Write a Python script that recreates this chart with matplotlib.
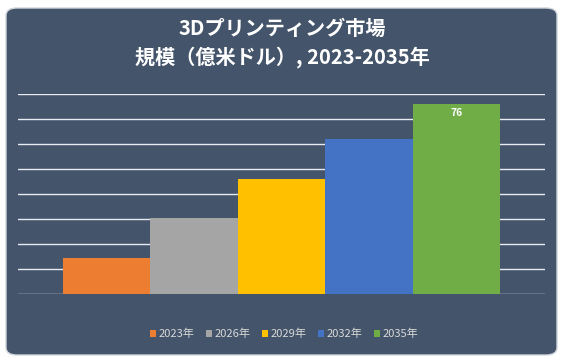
import matplotlib
matplotlib.use("Agg")
import matplotlib.pyplot as plt
from matplotlib.patches import FancyBboxPatch, Rectangle

plt.rcParams['font.family'] = ['Noto Sans CJK JP', 'DejaVu Sans']

categories = ["2023年", "2026年", "2029年", "2032年", "2035年"]
values = [14.1, 30.1, 46.0, 62.0, 76.0]
colors = ["#ED7D31", "#A5A5A5", "#FFC000", "#4472C4", "#70AD47"]
value_labels = ["", "", "", "", "76"]
title = "3Dプリンティング市場\n規模（億米ドル）, 2023-2035年"
yticks = list(range(0, 81, 10))

W, H = 563, 363
fig = plt.figure(figsize=(W / 100, H / 100), dpi=100)
fig.patch.set_facecolor("white")

# card background
card = FancyBboxPatch((6 / W, 8 / H), 551 / W, 347 / H,
                      boxstyle="round,pad=0,rounding_size=0.02",
                      transform=fig.transFigure, facecolor="#44546A",
                      edgecolor="#D0D4DA", linewidth=1.0, zorder=-5)
fig.patches.append(card)

ax = fig.add_axes([18 / W, (H - 293.5) / H, 527 / W, 200 / H])
ax.set_zorder(2)
ax.set_facecolor("none")
for i, (v, c) in enumerate(zip(values, colors)):
    ax.bar(i, v, width=1.0, color=c, zorder=3, linewidth=0)
    if value_labels[i]:
        ax.text(i, v - 4.0, value_labels[i], ha="center", va="center",
                color="white", fontsize=7.5, fontweight="bold", zorder=4)

ax.set_ylim(0, 80)
ax.set_xlim(-1.015, 5.015)
ax.set_yticks(yticks)
ax.yaxis.grid(True, color="#E8ECF2", linewidth=1.0, zorder=1)
ax.set_axisbelow(True)
ax.tick_params(left=False, bottom=False, labelleft=False, labelbottom=False)
for s in ax.spines.values():
    s.set_visible(False)

fig.text(282 / W, 1 - 43 / H, title, ha="center", va="center",
         color="white", fontsize=14.5, fontweight="bold", linespacing=1.45, zorder=3)

# legend
handles = [Rectangle((0, 0), 1, 1, facecolor=c, edgecolor="none") for c in colors]
leg = fig.legend(handles, categories, loc="center", bbox_to_anchor=(284 / W, 1 - 334 / H),
                 ncol=5, frameon=False, fontsize=8, handlelength=0.55, handleheight=0.55,
                 handletextpad=0.25, columnspacing=1.0, labelcolor="#D9D9D9")

fig.savefig("out.png", dpi=100, facecolor="white")
